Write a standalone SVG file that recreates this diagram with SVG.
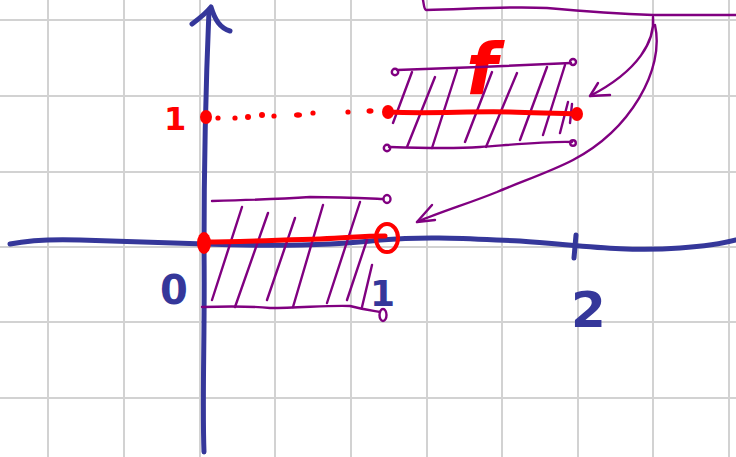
<svg xmlns="http://www.w3.org/2000/svg" width="736" height="457" viewBox="0 0 736 457">
<style>
.grid{stroke:#d2d2d2;stroke-width:2;fill:none}
.blue{stroke:#35379a;fill:none;stroke-linecap:round;stroke-linejoin:round}
.pur{stroke:#800080;fill:none;stroke-width:2.4;stroke-linecap:round;stroke-linejoin:round}
.red{stroke:#ff0000;fill:none;stroke-linecap:round;stroke-linejoin:round}
.lbl{font-family:"DejaVu Sans",sans-serif;fill:#35379a;font-weight:bold}
</style>
<rect width="736" height="457" fill="#ffffff"/>
<g id="grid" class="grid">
<path d="M48,0V457M124,0V457M200,0V457M275,0V457M351,0V457M427,0V457M502,0V457M578,0V457M653,0V457M729,0V457"/>
<path d="M0,20H736M0,96H736M0,172H736M0,247H736M0,322H736M0,398H736"/>
</g>
<g id="axes" class="blue">
<path d="M10,244 C30,240 50,239 80,240 C140,242 180,243 205,244 C260,246 320,247 380,240 C430,236 470,239 520,241 C580,245 620,252 680,248 C710,246 725,243 736,240" stroke-width="5"/>
<path d="M204,452 C202,400 205,330 204,250 C204,160 206,80 209,10" stroke-width="5"/>
<path d="M192,24 C200,18 207,12 211,7 C215,20 220,28 230,31" stroke-width="5"/>
<path d="M576,235 L574,258" stroke-width="5"/>
</g>
<g id="labels">
<text class="lbl" x="160" y="304" font-size="40">0</text>
<text class="lbl" x="370" y="306" font-size="36">1</text>
<text class="lbl" x="571" y="327" font-size="50">2</text>
<text x="164" y="130" font-size="32" font-family="DejaVu Sans,sans-serif" font-weight="bold" fill="#ff0000">1</text>
<text x="466" y="94" font-size="72" font-family="DejaVu Sans,sans-serif" font-weight="bold" font-style="italic" fill="#ff0000">f</text>
</g>
<g id="upper-set">
<g class="pur">
<path d="M397,70 C430,69 450,68 480,67 C520,65 550,64 571,63"/>
<path d="M389,147 C420,148 450,149 480,147 C520,144 550,141 572,142"/>
<circle cx="395" cy="72" r="3.2"/>
<circle cx="573" cy="62" r="3"/>
<circle cx="387" cy="148" r="3.2"/>
<circle cx="573" cy="143" r="2.8"/>
<path d="M412,72 L393,123M435,77 L407,147M457,70 L432,148M492,72 L465,142M517,73 L486,147M547,67 L520,140M565,65 L543,135M568,102 L560,133M572,104 L570,123"/>
</g>
<path class="red" d="M388,112 C430,114 470,111 510,112 C540,113 560,113 578,114" stroke-width="5"/>
<ellipse cx="388" cy="112" rx="6" ry="7" fill="#ff0000"/>
<ellipse cx="577" cy="114" rx="6" ry="7" fill="#ff0000"/>
</g>
<g id="dotted" fill="#ff0000">
<ellipse cx="206" cy="117" rx="6" ry="7"/>
<circle cx="218" cy="118" r="2.6"/>
<circle cx="235" cy="118" r="2.6"/>
<circle cx="248" cy="117" r="3"/>
<circle cx="262" cy="115" r="3"/>
<circle cx="274" cy="116" r="2.6"/>
<ellipse cx="298" cy="115" rx="4" ry="2.8"/>
<circle cx="313" cy="113" r="2.6"/>
<circle cx="348" cy="112" r="2.6"/>
<ellipse cx="370" cy="111" rx="3.5" ry="2.8"/>
</g>
<g id="lower-set">
<g class="pur">
<path d="M212,201 C250,200 280,199 310,197 C340,197 360,198 383,199"/>
<ellipse cx="387" cy="199" rx="3.5" ry="4"/>
<path d="M202,307 C230,306 250,306 270,308 C300,308 330,305 350,306 C365,310 375,311 380,312"/>
<ellipse cx="383" cy="315" rx="3.5" ry="6"/>
<path d="M242,207 L212,300M268,213 L235,307M295,218 L267,300M323,205 L293,307M360,202 L327,303M367,240 L347,300M372,265 L362,307"/>
</g>
<path class="red" d="M205,242 C240,242 280,240 320,239 C350,238 360,236 385,236" stroke-width="5"/>
<ellipse cx="204" cy="243" rx="7" ry="11" fill="#ff0000"/>
<ellipse cx="387" cy="238" rx="11" ry="14" class="red" stroke-width="4"/>
</g>
<g id="connectors" class="pur">
<path d="M423,0 C424,5 424,9 426,10 C470,9 510,6 547,8 C590,12 620,14 653,15 L736,15"/>
<path d="M653,17 C655,40 640,70 590,96"/>
<path d="M598,83 L590,96 L610,95"/>
<path d="M655,25 C665,70 630,130 573,160 C550,172 520,182 497,192 C470,203 440,212 417,222"/>
<path d="M432,205 L417,222 L435,220"/>
</g>
</svg>
